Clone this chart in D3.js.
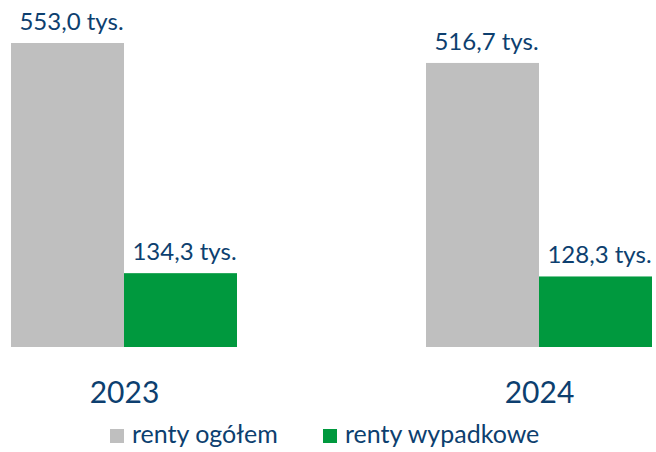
<!DOCTYPE html>
<html>
<head>
<meta charset="utf-8">
<script src="https://cdnjs.cloudflare.com/ajax/libs/d3/7.8.5/d3.min.js"></script>
<style>
  body { margin: 0; background: #fff; }
  text { font-family: Lato, "Open Sans", sans-serif; fill: #0d3f6f; }
</style>
</head>
<body>
<div id="chart-area"></div>
<script>
// Data
var years = ["2023", "2024"];
var seriesNames = ["renty ogółem", "renty wypadkowe"];
var seriesColors = ["#bfbfbf", "#00993e"];
var rentyOgolem = [553.0, 516.7];
var rentyWypadkowe = [134.3, 128.3];
var valueLabels = [["553,0 tys.", "516,7 tys."], ["134,3 tys.", "128,3 tys."]];

var width = 656, height = 452;

var svg = d3.select("#chart-area").append("svg")
    .attr("width", width)
    .attr("height", height);

// Scales
var x0 = d3.scalePoint().domain(years).range([124, 539]);
var x1 = d3.scaleBand().domain(seriesNames).range([-113, 113]);
var y = d3.scaleLinear().domain([0, 553.0]).range([347, 43]);

var values = [rentyOgolem, rentyWypadkowe];

var data = [];
years.forEach(function(yr, i) {
    seriesNames.forEach(function(s, j) {
        data.push({ year: yr, series: s, value: values[j][i], label: valueLabels[j][i], color: seriesColors[j] });
    });
});

// Bars
svg.selectAll(".bar")
    .data(data)
    .enter().append("rect")
    .attr("class", "bar")
    .attr("x", function(d) { return x0(d.year) + x1(d.series); })
    .attr("y", function(d) { return y(d.value); })
    .attr("width", x1.bandwidth())
    .attr("height", function(d) { return y(0) - y(d.value); })
    .attr("fill", function(d) { return d.color; });

// Value labels
svg.selectAll(".val")
    .data(data)
    .enter().append("text")
    .attr("class", "val")
    .attr("x", function(d) { return x0(d.year) + x1(d.series) + x1.bandwidth() / 2 + 4; })
    .attr("y", function(d) { return y(d.value) - 13; })
    .attr("text-anchor", "middle")
    .attr("font-size", "24px")
    .text(function(d) { return d.label; });

// X axis labels
var xAxis = d3.axisBottom(x0).tickSize(0).tickPadding(0);
var xg = svg.append("g")
    .attr("transform", "translate(0,347)")
    .call(xAxis);
xg.select(".domain").remove();
xg.selectAll("text")
    .attr("y", 56)
    .attr("dy", 0)
    .attr("font-size", "30px")
    .style("font-family", "Lato, 'Open Sans', sans-serif")
    .attr("fill", "#0d3f6f");

// Legend
var legendX = [110, 323];
var legend = svg.selectAll(".legend")
    .data(seriesNames)
    .enter().append("g")
    .attr("class", "legend")
    .attr("transform", function(d, i) { return "translate(" + legendX[i] + ",429)"; });

legend.append("rect")
    .attr("width", 14)
    .attr("height", 14)
    .attr("fill", function(d, i) { return seriesColors[i]; });

legend.append("text")
    .attr("x", 22)
    .attr("y", 14)
    .attr("font-size", "25px")
    .text(function(d) { return d; });
</script>
</body>
</html>
